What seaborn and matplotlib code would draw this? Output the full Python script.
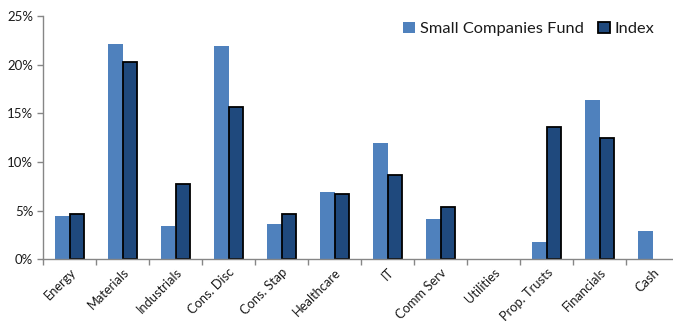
import matplotlib
matplotlib.use("Agg")
import matplotlib.pyplot as plt
import seaborn as sns
import pandas as pd
from matplotlib.patches import Patch
from matplotlib.ticker import FixedLocator

categories = ["Energy", "Materials", "Industrials", "Cons. Disc", "Cons. Stap",
              "Healthcare", "IT", "Comm Serv", "Utilities", "Prop. Trusts",
              "Financials", "Cash"]
fund = [4.5, 22.1, 3.4, 21.9, 3.6, 6.9, 11.9, 4.1, 0.0, 1.8, 16.4, 2.9]
index = [4.7, 20.3, 7.75, 15.6, 4.7, 6.7, 8.7, 5.35, 0.0, 13.6, 12.5, 0.0]
series = ["Small Companies Fund", "Index"]
yticks = [0, 5, 10, 15, 20, 25]

df = pd.DataFrame({
    "Sector": categories * 2,
    "Value": fund + index,
    "Series": [series[0]] * len(categories) + [series[1]] * len(categories),
})

sns.set_theme(style="white")
plt.rcParams["font.family"] = ["Lato", "DejaVu Sans"]

fund_color = "#4F81BD"
index_color = "#1F497D"
text_color = "#1a1a1a"
axis_color = "#868686"

fig = plt.figure(figsize=(6.73, 3.21), dpi=100)
ax = fig.add_axes([43 / 673, 61.7 / 321, 636 / 673, 243.3 / 321])

sns.barplot(data=df, x="Sector", y="Value", hue="Series", order=categories,
            hue_order=series, palette=[fund_color, index_color],
            width=0.56, saturation=1, legend=False, ax=ax)

for bar, v in zip(ax.containers[1], index):
    if v > 0:
        bar.set_edgecolor("black")
        bar.set_linewidth(1.3)
    else:
        bar.set_linewidth(0)
for bar in ax.containers[0]:
    bar.set_linewidth(0)

ax.set_ylim(0, 25)
ax.set_xlim(-0.5, len(categories) - 0.5)
ax.set_yticks(yticks)
ax.set_yticklabels([f"{t}%" for t in yticks], fontsize=9.5, color=text_color)
ax.set_xticks(range(len(categories)))
ax.set_xticklabels(categories, rotation=45, ha="right", rotation_mode="anchor",
                   fontsize=9.3, color=text_color)
ax.xaxis.set_minor_locator(FixedLocator([i - 0.5 for i in range(len(categories) + 1)]))
ax.tick_params(axis="x", which="major", length=0, pad=5)
ax.tick_params(axis="x", which="minor", length=4, width=1, color=axis_color, direction="out", bottom=True)
ax.tick_params(axis="y", which="major", length=4, width=1, color=axis_color, direction="out", left=True, pad=3)
ax.set_xlabel("")
ax.set_ylabel("")
for s in ["top", "right"]:
    ax.spines[s].set_visible(False)
for s in ["left", "bottom"]:
    ax.spines[s].set_color(axis_color)
    ax.spines[s].set_linewidth(1)

handles = [Patch(facecolor=fund_color, edgecolor="none"),
           Patch(facecolor=index_color, edgecolor="black", linewidth=1.3)]
leg = ax.legend(handles, series, loc="upper right", bbox_to_anchor=(661 / 673, 306 / 321),
                bbox_transform=fig.transFigure, frameon=False, ncol=2,
                fontsize=11.8, handlelength=0.7, handleheight=0.7,
                handletextpad=0.3, columnspacing=0.9, borderaxespad=0)
for t in leg.get_texts():
    t.set_color(text_color)

fig.savefig("out.png", dpi=100)
